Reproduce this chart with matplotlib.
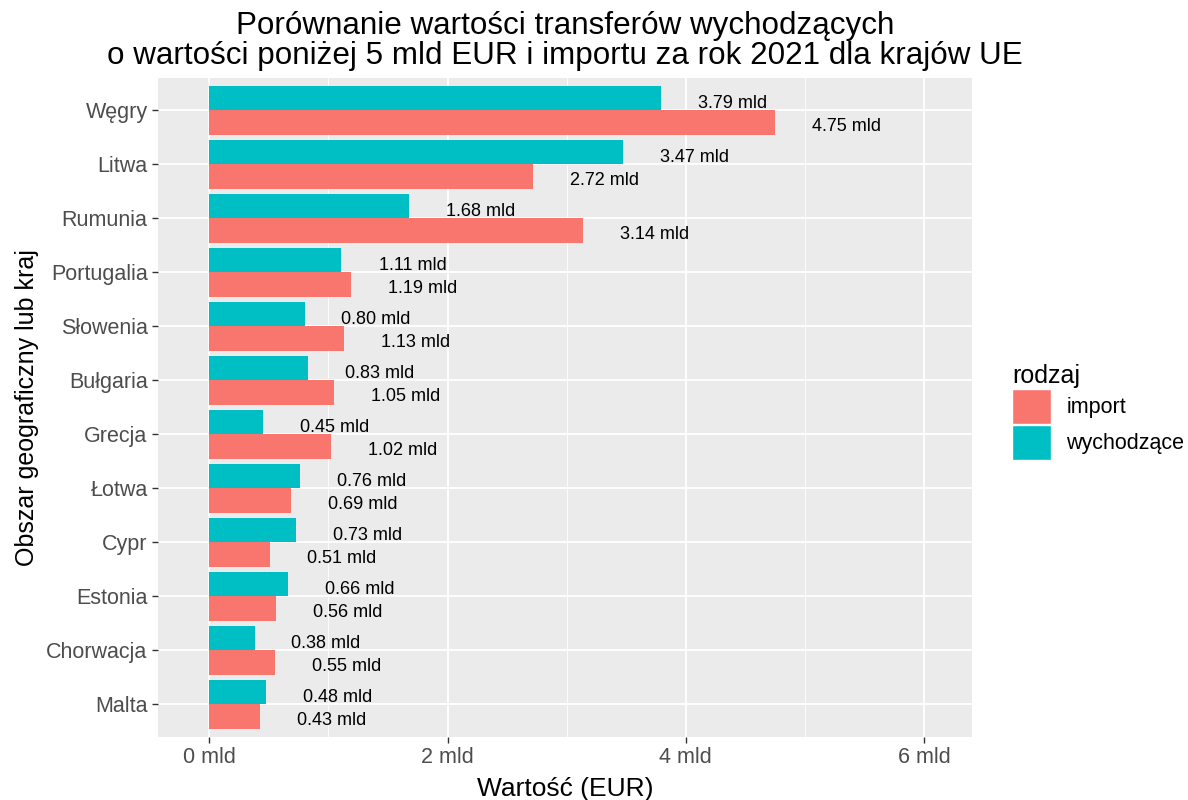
import matplotlib.pyplot as plt
from matplotlib.patches import Patch
from matplotlib.ticker import MultipleLocator

plt.rcParams['font.family'] = ['Liberation Sans', 'DejaVu Sans']

# data (top to bottom as in the chart)
countries = ['Węgry', 'Litwa', 'Rumunia', 'Portugalia', 'Słowenia', 'Bułgaria',
             'Grecja', 'Łotwa', 'Cypr', 'Estonia', 'Chorwacja', 'Malta']
wychodzace = [3.79, 3.47, 1.68, 1.11, 0.80, 0.83, 0.45, 0.76, 0.73, 0.66, 0.38, 0.48]
imports = [4.75, 2.72, 3.14, 1.19, 1.13, 1.05, 1.02, 0.69, 0.51, 0.56, 0.55, 0.43]

col_imp = '#F8766D'
col_wych = '#00BFC4'

fig = plt.figure(figsize=(11.88, 8.0), dpi=100)
ax = fig.add_axes([0.133, 0.079, 0.685, 0.8235])
ax.set_facecolor('#EBEBEB')

n = len(countries)
ypos = [n - i for i in range(n)]
bw = 0.45

ax.barh([y + bw / 2 for y in ypos], wychodzace, height=bw, color=col_wych, zorder=3)
ax.barh([y - bw / 2 for y in ypos], imports, height=bw, color=col_imp, zorder=3)

# value labels, shifted right of the bar end
for y, v in zip(ypos, wychodzace):
    ax.text(v + 0.6, y + bw / 2 - 0.1, f'{v:.2f} mld', ha='center', va='center',
            fontsize=13, color='black', zorder=4)
for y, v in zip(ypos, imports):
    ax.text(v + 0.6, y - bw / 2 - 0.07, f'{v:.2f} mld', ha='center', va='center',
            fontsize=13, color='black', zorder=4)

ax.set_xlim(-0.43, 6.4)
ax.set_ylim(0.4, n + 0.6)
ax.set_yticks(ypos)
ax.set_yticklabels(countries)
ax.set_xticks([0, 2, 4, 6])
ax.set_xticklabels(['0 mld', '2 mld', '4 mld', '6 mld'])
ax.xaxis.set_minor_locator(MultipleLocator(1))

ax.grid(True, which='major', color='white', linewidth=1.3, zorder=0)
ax.grid(True, which='minor', axis='x', color='white', linewidth=0.6, zorder=0)
ax.set_axisbelow(True)
for s in ax.spines.values():
    s.set_visible(False)
ax.tick_params(axis='both', which='major', colors='#333333', labelcolor='#4D4D4D',
               labelsize=15.5, length=4, width=1)
ax.tick_params(axis='x', which='minor', length=0)

ax.set_xlabel('Wartość (EUR)', fontsize=19, labelpad=6)
ax.set_ylabel('Obszar geograficzny lub kraj', fontsize=18, labelpad=5)
ax.set_title('Porównanie wartości transferów wychodzących\n'
             'o wartości poniżej 5 mld EUR i importu za rok 2021 dla krajów UE',
             fontsize=22.6, pad=10, linespacing=1.02)

handles = [Patch(facecolor=col_imp, edgecolor='white', label='import'),
           Patch(facecolor=col_wych, edgecolor='white', label='wychodzące')]
leg = fig.legend(handles=handles, title='rodzaj', loc='center left',
                 bbox_to_anchor=(0.845, 0.485), frameon=False, fontsize=15.5,
                 title_fontsize=18, handlelength=1.8, handleheight=2.1,
                 labelspacing=0.05, handletextpad=0.7, borderaxespad=0)
leg._legend_box.align = 'left'

fig.savefig('out.png', dpi=100)
